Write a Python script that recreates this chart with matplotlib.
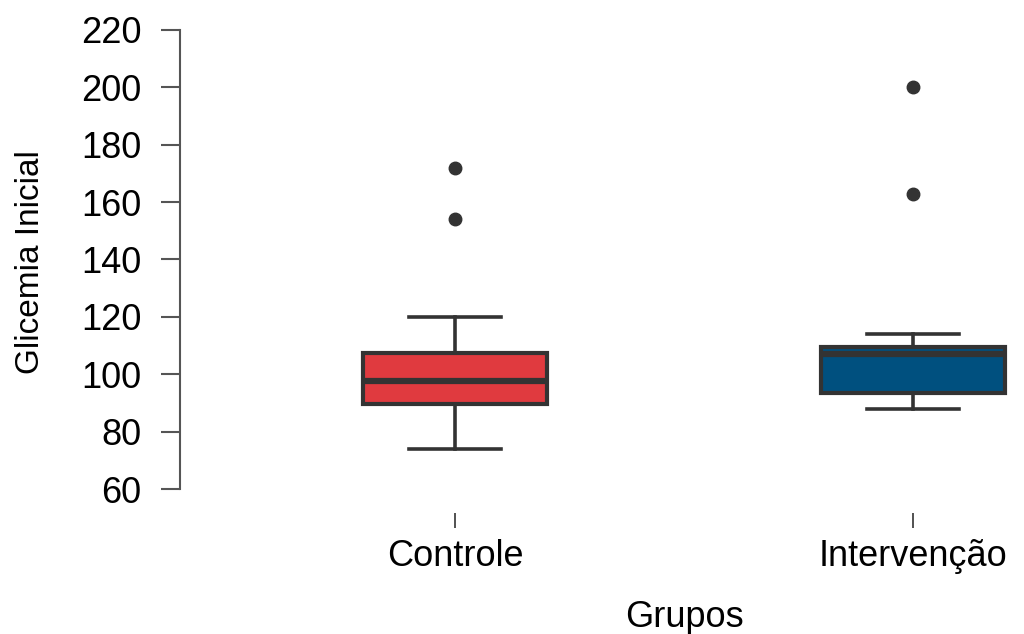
import matplotlib
matplotlib.use("Agg")
import matplotlib.pyplot as plt
import matplotlib.transforms as mtransforms

plt.rcParams["font.family"] = ["Liberation Sans", "DejaVu Sans"]

# Box summary values
groups = ["Controle", "Intervenção"]
q1 = [89.5, 93.5]
medians = [97.5, 107.0]
q3 = [107.5, 109.5]
whisker_low = [74, 88]
whisker_high = [120, 114]
outliers = [[154, 172], [163, 200]]
colors = ["#E03A3F", "#00507F"]

stats = []
for i, g in enumerate(groups):
    stats.append({"label": g, "q1": q1[i], "med": medians[i], "q3": q3[i],
                  "whislo": whisker_low[i], "whishi": whisker_high[i],
                  "fliers": outliers[i]})

fig = plt.figure(figsize=(10.24, 6.34), dpi=100)
ax = fig.add_axes([0.1758, 0.2287, 0.8242, 0.724])

dark = "#333333"
bp = ax.bxp(stats, positions=[0, 1], widths=0.4, patch_artist=True,
            boxprops=dict(edgecolor=dark, linewidth=3),
            medianprops=dict(color=dark, linewidth=4.5, solid_capstyle="butt"),
            whiskerprops=dict(color=dark, linewidth=2.6),
            capprops=dict(color=dark, linewidth=2.6),
            capwidths=0.2,
            flierprops=dict(marker="o", markerfacecolor=dark, markeredgecolor=dark,
                            markersize=9))
for patch, c in zip(bp["boxes"], colors):
    patch.set_facecolor(c)

ax.set_xlim(-0.6, 1.242)
ax.set_ylim(60, 220)
ax.set_yticks(range(60, 221, 20))

for s in ["top", "right"]:
    ax.spines[s].set_visible(False)
ax.spines["bottom"].set_position(("outward", 17))  # points, ~24 px
ax.spines["bottom"].set_visible(False)
ax.spines["left"].set_color("#555555")
ax.spines["left"].set_linewidth(1.5)
ax.spines["left"].set_bounds(60, 220)

ax.tick_params(axis="y", length=14, width=1.5, color="#555555", pad=14, labelsize=26)
ax.tick_params(axis="x", length=11, width=1.2, color=dark, pad=8, labelsize=26)

ax.set_xlabel("Grupos", fontsize=26)
ax.set_ylabel("Glicemia Inicial", fontsize=24)
ax.xaxis.set_label_coords(0.5, 0.054,
                          transform=mtransforms.blended_transform_factory(ax.transData, fig.transFigure))
ax.yaxis.set_label_coords(0.045, 0.587,
                          transform=fig.transFigure)

fig.savefig("out.png", dpi=100)
